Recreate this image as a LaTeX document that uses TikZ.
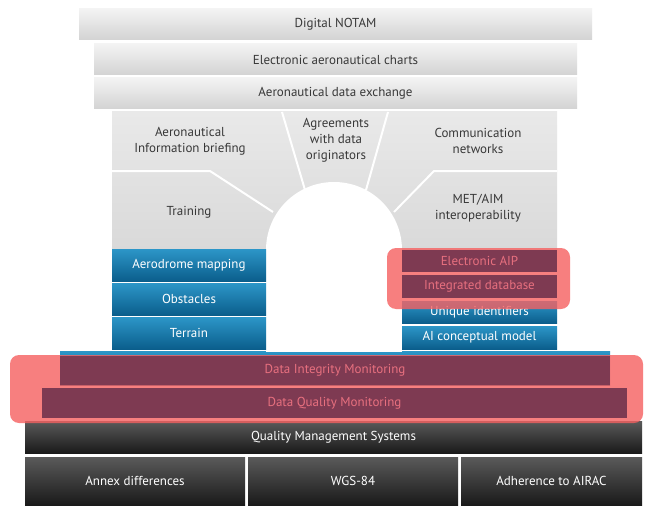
\documentclass[tikz,border=0pt]{standalone}
\usepackage{fontspec}
\setmainfont{PT Sans}
\definecolor{grayT}{HTML}{F3F3F3}
\definecolor{grayB}{HTML}{D3D3D3}
\definecolor{archT}{HTML}{E9E9E9}
\definecolor{archB}{HTML}{D9D9D9}
\definecolor{txtgray}{HTML}{383838}
\definecolor{blueT}{HTML}{2C96C8}
\definecolor{blueB}{HTML}{0B5E8C}
\definecolor{maroon}{HTML}{7E3A52}
\definecolor{pinktxt}{HTML}{E8707F}
\definecolor{salmon}{HTML}{F66060}
\definecolor{darkT}{HTML}{5A5A5A}
\definecolor{darkB}{HTML}{1A1A1A}
\begin{document}
\begin{tikzpicture}[x=1pt,y=-1pt,
  box/.style={rectangle, inner sep=0pt, outer sep=0pt, font=\fontsize{13}{15}\selectfont, align=center},
  graybox/.style={box, top color=grayT, bottom color=grayB, text=txtgray},
  bluebox/.style={box, top color=blueT, bottom color=blueB, text=white},
  maroonbox/.style={box, fill=maroon, text=pinktxt},
  darkbox/.style={box, top color=darkT, bottom color=darkB, text=white},
  lbl/.style={inner sep=0pt, font=\fontsize{13}{16}\selectfont, align=center, text=txtgray},
  hilite/.style={fill=salmon, fill opacity=0.8, rounded corners=9pt},
  sep/.style={draw=white, line width=2pt}
]
\useasboundingbox[fill=white] (0,0) rectangle (666,532);
% base dark boxes
\node[darkbox, minimum width=617pt, minimum height=32pt] (qms) at (333.5,437) {Quality Management Systems};
\node[darkbox, minimum width=220pt, minimum height=48pt] (annex) at (135,481) {Annex differences};
\node[darkbox, minimum width=210pt, minimum height=48pt] (wgs) at (353,481) {WGS-84};
\node[darkbox, minimum width=181pt, minimum height=48pt] (airac) at (551.5,481) {Adherence to AIRAC};
% blue base
\node[bluebox, minimum width=550pt, minimum height=34pt] (base) at (335,368) {};
% top gray boxes
\node[graybox, minimum width=513pt, minimum height=31pt] (notam) at (335.5,24.5) {Digital NOTAM};
\node[graybox, minimum width=483pt, minimum height=31pt] (charts) at (335.5,59.5) {Electronic aeronautical charts};
\node[graybox, minimum width=483pt, minimum height=31pt] (exch) at (335.5,93.5) {Aeronautical data exchange};
% arch
\fill[top color=archT, bottom color=archB] (112,112) rectangle (557,250);
\draw[sep] (112,171) -- (210,171) -- (273,212);
\draw[sep] (557,171) -- (434,171) -- (394,212);
\draw[sep] (282,112) -- (305,190);
\draw[sep] (388,112) -- (366,190);
\fill[white] (334,250) circle (68);
\fill[white] (266,250) rectangle (402,352);
\node[lbl] (brief) at (190,141) {Aeronautical\\Information briefing};
\node[lbl] (train) at (189,212) {Training};
\node[lbl] (agree) at (336,140) {Agreements\\with data\\originators};
\node[lbl] (comm) at (478,141) {Communication\\networks};
\node[lbl] (met) at (478,208) {MET/AIM\\interoperability};
% blue columns
\node[bluebox, minimum width=154pt, minimum height=32pt] (aero) at (189,265) {Aerodrome mapping};
\node[bluebox, minimum width=154pt, minimum height=32pt] (obst) at (189,299) {Obstacles};
\node[bluebox, minimum width=154pt, minimum height=32pt] (terr) at (189,333) {Terrain};
\node[bluebox, minimum width=155pt, minimum height=22pt] (uid) at (479.5,312) {Unique identifiers};
\node[bluebox, minimum width=155pt, minimum height=23pt] (aicm) at (479.5,337.5) {AI conceptual model};
% highlights
\fill[hilite] (387,248) rectangle (570,309);
\fill[hilite] (10,355) rectangle (643,423);
% maroon boxes
\node[maroonbox, minimum width=155pt, minimum height=22pt] (eaip) at (479.5,261) {Electronic AIP};
\node[maroonbox, minimum width=155pt, minimum height=23pt] (idb) at (479.5,286.5) {Integrated database};
\node[maroonbox, minimum width=550pt, minimum height=29pt] (dim) at (335,370.5) {Data Integrity Monitoring};
\node[maroonbox, minimum width=585pt, minimum height=30pt] (dqm) at (334.5,403) {Data Quality Monitoring};
\end{tikzpicture}
\end{document}
